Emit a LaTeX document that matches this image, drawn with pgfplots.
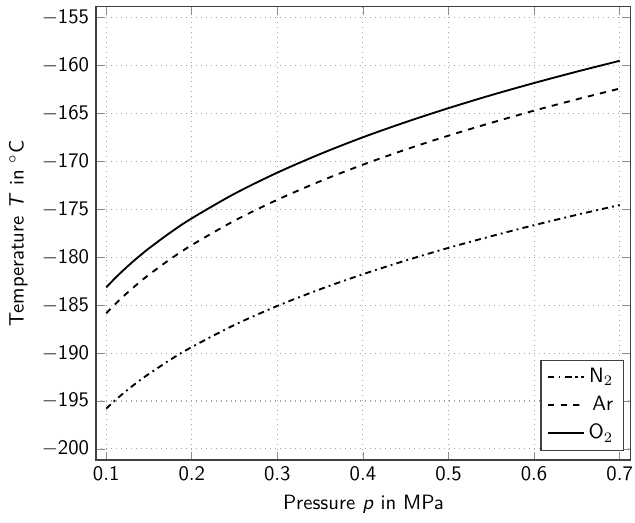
\documentclass[border=0pt]{standalone}
\usepackage{pgfplots}
\pgfplotsset{compat=1.18}

% Saturation temperatures of the air components over pressure
\pgfplotstableread{
p      N2       Ar       O2
0.100  -195.80  -185.85  -183.15
0.110  -194.97  -184.94  -182.22
0.120  -194.20  -184.08  -181.36
0.130  -193.48  -183.29  -180.55
0.140  -192.80  -182.53  -179.79
0.150  -192.17  -181.82  -179.07
0.175  -190.69  -180.19  -177.42
0.200  -189.37  -178.73  -175.94
0.250  -187.06  -176.18  -173.37
0.300  -185.08  -174.00  -171.17
0.350  -183.34  -172.07  -169.23
0.400  -181.77  -170.34  -167.48
0.450  -180.34  -168.76  -165.90
0.500  -179.02  -167.31  -164.44
0.550  -177.80  -165.97  -163.08
0.600  -176.65  -164.70  -161.82
0.650  -175.57  -163.52  -160.63
0.700  -174.55  -162.40  -159.50
}\satdata

\begin{document}
\begin{tikzpicture}[font=\sffamily]
\begin{axis}[
  scale only axis,
  width=258pt, height=219pt,
  xmin=0.08846, xmax=0.7127,
  ymin=-201.16, ymax=-153.84,
  xtick={0.1,0.2,...,0.7},
  ytick={-200,-195,...,-155},
  xticklabel={$\mathsf{\pgfmathprintnumber[fixed,precision=1]{\tick}}$},
  yticklabel={$\mathsf{\pgfmathprintnumber{\tick}}$},
  xticklabel style={inner xsep=0pt},
  tick align=inside,
  tick style={black!45, thin},
  major tick length=4pt,
  axis line style={black!75, line width=0.8pt},
  grid=major,
  grid style={black!35, dotted, line width=0.5pt},
  xlabel={Pressure \textit{p} in MPa},
  ylabel={Temperature \textit{T} in $^\circ$C},
  legend style={at={(0.988,0.02)}, anchor=south east,
    draw=black!75, line width=0.6pt, font=\sffamily,
    row sep=1pt, inner xsep=3pt, inner ysep=2pt},
  legend cell align=right,
  every axis plot/.append style={line width=0.9pt, black, smooth},
]
\addplot[dash dot] table[x=p, y=N2] {\satdata};
\addlegendentry{N$_2$}
\addplot[dashed] table[x=p, y=Ar] {\satdata};
\addlegendentry{Ar}
\addplot[solid] table[x=p, y=O2] {\satdata};
\addlegendentry{O$_2$}
\end{axis}
% a little white margin around the figure
\path (current bounding box.north west) ++(-1pt,1.5pt);
\path (current bounding box.south east) ++(1pt,-1pt);
\end{tikzpicture}
\end{document}
